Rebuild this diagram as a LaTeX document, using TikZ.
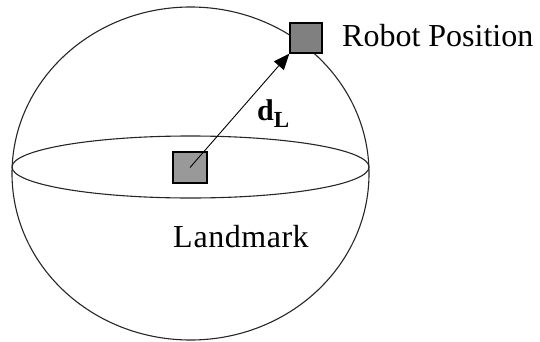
\documentclass[tikz,border=0pt]{standalone}
\usepackage{fontspec}
\setmainfont{Liberation Serif}
\usetikzlibrary{arrows.meta}
\begin{document}
\begin{tikzpicture}[x=1pt,y=1pt,
  outline/.style={draw=black!85,line width=1.1pt},
  sq/.style={draw=black,line width=1.3pt,minimum width=#1,inner sep=0pt},
  lbl/.style={inner sep=0pt,anchor=base west,font=\fontsize{32}{36}\selectfont}]
\useasboundingbox (0,0) rectangle (540,341);
\draw[outline] (190.5,167.5) ellipse [x radius=178.5,y radius=166.5];
\draw[outline] (190.5,174) ellipse [x radius=178.5,y radius=31];
\node[sq=34pt,minimum height=31pt,fill=black!40] (land) at (190,173.5) {};
\node[sq=32pt,minimum height=30pt,fill=black!50] (robot) at (306,303) {};
\draw[line width=0.9pt,-{Triangle[length=16pt,width=13pt]}] (land.center) -- (robot.south west);
\node[lbl] (rp) at (342,295) {Robot Position};
\node[lbl] (lm) at (173,94) {L\kern1pt a\kern0.5pt n\kern0.5pt d\kern0.5pt m\kern0.5pt a\kern0.5pt r\kern0.5pt k};
\node[lbl] (dl) at (257,221) {\fontsize{30}{34}\selectfont\textbf{d}\raisebox{-7pt}{\fontsize{23}{26}\selectfont\textbf{L}}};
\end{tikzpicture}
\end{document}
